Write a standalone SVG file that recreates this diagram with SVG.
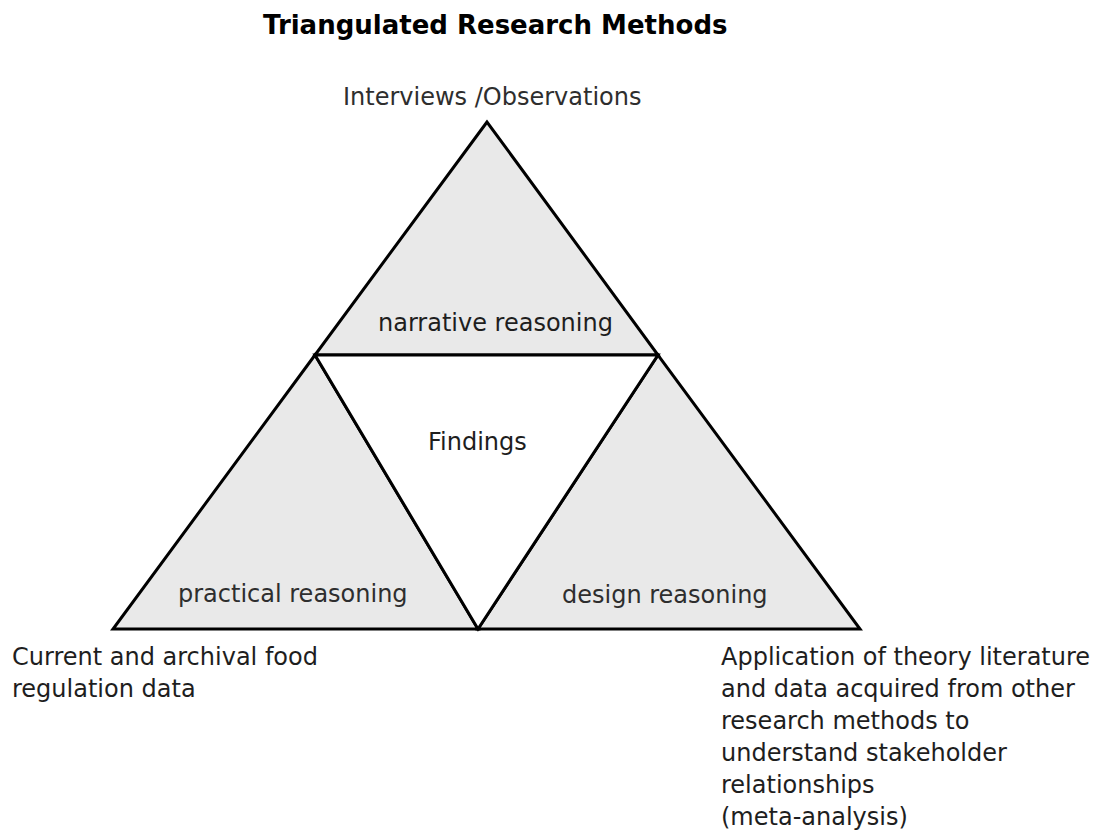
<svg xmlns="http://www.w3.org/2000/svg" width="1098" height="833" viewBox="0 0 1098 833">
  <style>
    .tri { fill: #e9e9e9; stroke: #000; stroke-width: 3; stroke-linejoin: miter; }
    .core { fill: #ffffff; stroke: #000; stroke-width: 3; stroke-linejoin: miter; }
    .lbl { font-family: "DejaVu Sans", "Liberation Sans", sans-serif; font-size: 24px; fill: #1e1e1e; }
    .soft { fill: #2e2e2e; }
    .title { font-family: "DejaVu Sans", "Liberation Sans", sans-serif; font-size: 26px; font-weight: bold; fill: #000; }
  </style>
  <rect width="1098" height="833" fill="#ffffff"/>

  <g id="title">
    <text class="title" x="263" y="34">Triangulated Research Methods</text>
  </g>

  <g id="narrative">
    <polygon class="tri" points="487,122 315,355 658,355"/>
    <text class="lbl" x="378" y="331">narrative reasoning</text>
  </g>

  <g id="practical">
    <polygon class="tri" points="315,355 113,629 478,629"/>
    <text class="lbl soft" x="178" y="602">practical reasoning</text>
  </g>

  <g id="design">
    <polygon class="tri" points="658,355 478,629 860,629"/>
    <text class="lbl soft" x="562" y="603">design reasoning</text>
  </g>

  <g id="findings">
    <polygon class="core" points="315,355 658,355 478,629"/>
    <text class="lbl" x="428" y="450" fill="#000">Findings</text>
  </g>

  <g id="interviews">
    <text class="lbl soft" x="343" y="105">Interviews /Observations</text>
  </g>

  <g id="archival">
    <text class="lbl" x="12" y="665">Current and archival food</text>
    <text class="lbl" x="12" y="697">regulation data</text>
  </g>

  <g id="meta-analysis">
    <text class="lbl" x="721" y="665">Application of theory literature</text>
    <text class="lbl" x="721" y="697">and data acquired from other</text>
    <text class="lbl" x="721" y="729">research methods to</text>
    <text class="lbl" x="721" y="761">understand stakeholder</text>
    <text class="lbl" x="721" y="793">relationships</text>
    <text class="lbl" x="721" y="825">(meta-analysis)</text>
  </g>
</svg>
